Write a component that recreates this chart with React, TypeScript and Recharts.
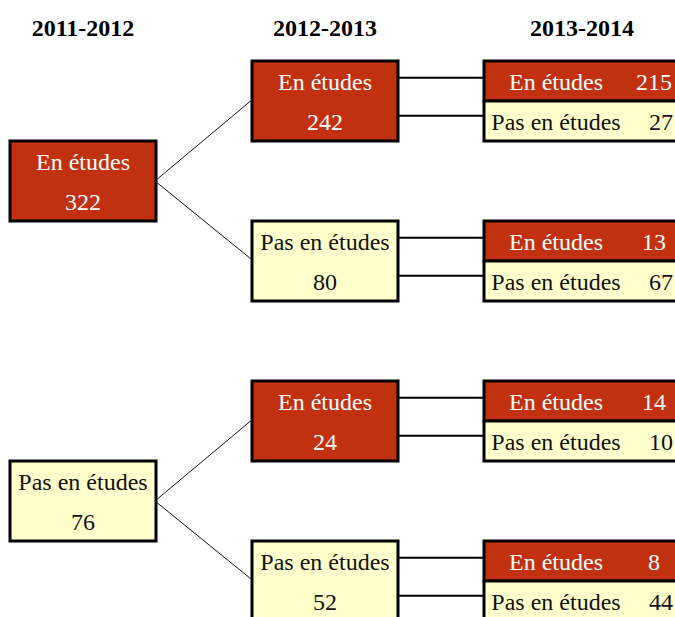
import { ComposedChart, XAxis, YAxis, ReferenceArea, ReferenceLine } from 'recharts'

// school status follow-up, three school years
const YEARS = ['2011-2012', '2012-2013', '2013-2014']
const STATUS = ['En études', 'Pas en études']
const FIRST_YEAR = [322, 76]
const SECOND_YEAR = [242, 80, 24, 52] // children of FIRST_YEAR, two by two
const THIRD_IN = [215, 13, 14, 8] // "En études" in 2013-2014, one per SECOND_YEAR box
const THIRD_OUT = [27, 67, 10, 44] // "Pas en études" in 2013-2014

const W = 675
const H = 617
const COL_X = [10, 252, 484]
const COL_W = [146, 146, 196]
const FILL = ['#c1300f', '#ffffcc']
const INK = ['#ffffff', '#111111']
const FONT = "'Liberation Serif', 'Times New Roman', serif"
const FS = 24

// eslint-disable-next-line @typescript-eslint/no-explicit-any
function BoxText({ viewBox, textLines, ink }: any) {
  if (!viewBox) return null
  const { x, y, width, height } = viewBox
  const step = height / textLines.length
  return (
    <g>
      {textLines.map((t: string, i: number) => (
        <text key={i} x={x + width / 2} y={y + i * step + step * 0.725} textAnchor="middle"
          fill={ink} style={{ fontFamily: FONT, fontSize: FS }}>{t}</text>
      ))}
    </g>
  )
}

// eslint-disable-next-line @typescript-eslint/no-explicit-any
function RowText({ viewBox, name, count, ink, numAt }: any) {
  if (!viewBox) return null
  const { x, y, height } = viewBox
  const base = y + height * 0.725
  return (
    <g fill={ink} style={{ fontFamily: FONT, fontSize: FS }}>
      <text x={x + 72} y={base} textAnchor="middle">{name}</text>
      <text x={x + numAt} y={base} textAnchor="middle">{count}</text>
    </g>
  )
}

// eslint-disable-next-line @typescript-eslint/no-explicit-any
function HeaderText({ viewBox, title }: any) {
  if (!viewBox) return null
  const { x, y, width, height } = viewBox
  return (
    <text x={x + width / 2} y={y + height} textAnchor="middle" fill="#000"
      style={{ fontFamily: FONT, fontSize: 24, fontWeight: 'bold' }}>{title}</text>
  )
}

export default function App() {
  const right = (c: number) => COL_X[c] + COL_W[c]
  return (
    <div style={{ position: 'absolute', left: 0, top: 0, width: W, height: H, overflow: 'hidden', background: '#fff' }}>
      <ComposedChart width={W} height={H} margin={{ top: 0, right: 0, bottom: 0, left: 0 }}>
        <XAxis type="number" dataKey="x" domain={[0, W]} hide height={0} allowDataOverflow />
        <YAxis type="number" dataKey="y" domain={[-1.525, 13.9]} reversed hide width={0} allowDataOverflow />

        {YEARS.map((t, c) => (
          <ReferenceArea key={t} x1={COL_X[c]} x2={right(c)} y1={-1.2} y2={-0.62}
            fillOpacity={0} stroke="none" ifOverflow="visible"
            label={<HeaderText title={t} />} />
        ))}

        {/* connectors */}
        {SECOND_YEAR.map((_, j) => {
          const parent = Math.floor(j / 2)
          return (
            <ReferenceLine key={'d' + j} ifOverflow="visible" stroke="#111" strokeWidth={1}
              segment={[{ x: right(0) - 1, y: 8 * parent + 3 }, { x: COL_X[1], y: 4 * j + 0.97 }]} />
          )
        })}
        {SECOND_YEAR.map((_, j) =>
          [0.42, 1.37].map(r => (
            <ReferenceLine key={'h' + j + r} ifOverflow="visible" stroke="#000" strokeWidth={2}
              segment={[{ x: right(1), y: 4 * j + r }, { x: COL_X[2], y: 4 * j + r }]} />
          ))
        )}

        {FIRST_YEAR.map((v, i) => (
          <ReferenceArea key={'a' + i} x1={COL_X[0]} x2={right(0)} y1={8 * i + 2} y2={8 * i + 4}
            fill={FILL[i]} fillOpacity={1} stroke="#000" strokeWidth={3} ifOverflow="visible"
            label={<BoxText textLines={[STATUS[i], String(v)]} ink={INK[i]} />} />
        ))}

        {SECOND_YEAR.map((v, j) => (
          <ReferenceArea key={'b' + j} x1={COL_X[1]} x2={right(1)} y1={4 * j} y2={4 * j + 2}
            fill={FILL[j % 2]} fillOpacity={1} stroke="#000" strokeWidth={3} ifOverflow="visible"
            label={<BoxText textLines={[STATUS[j % 2], String(v)]} ink={INK[j % 2]} />} />
        ))}

        {SECOND_YEAR.map((_, j) =>
          [THIRD_IN[j], THIRD_OUT[j]].map((v, s) => (
            <ReferenceArea key={'c' + j + s} x1={COL_X[2]} x2={right(2)} y1={4 * j + s} y2={4 * j + s + 1}
              fill={FILL[s]} fillOpacity={1} stroke="#000" strokeWidth={3} ifOverflow="visible"
              label={<RowText name={STATUS[s]} count={v} ink={INK[s]} numAt={s === 0 ? 170 : 177} />} />
          ))
        )}
      </ComposedChart>
    </div>
  )
}
